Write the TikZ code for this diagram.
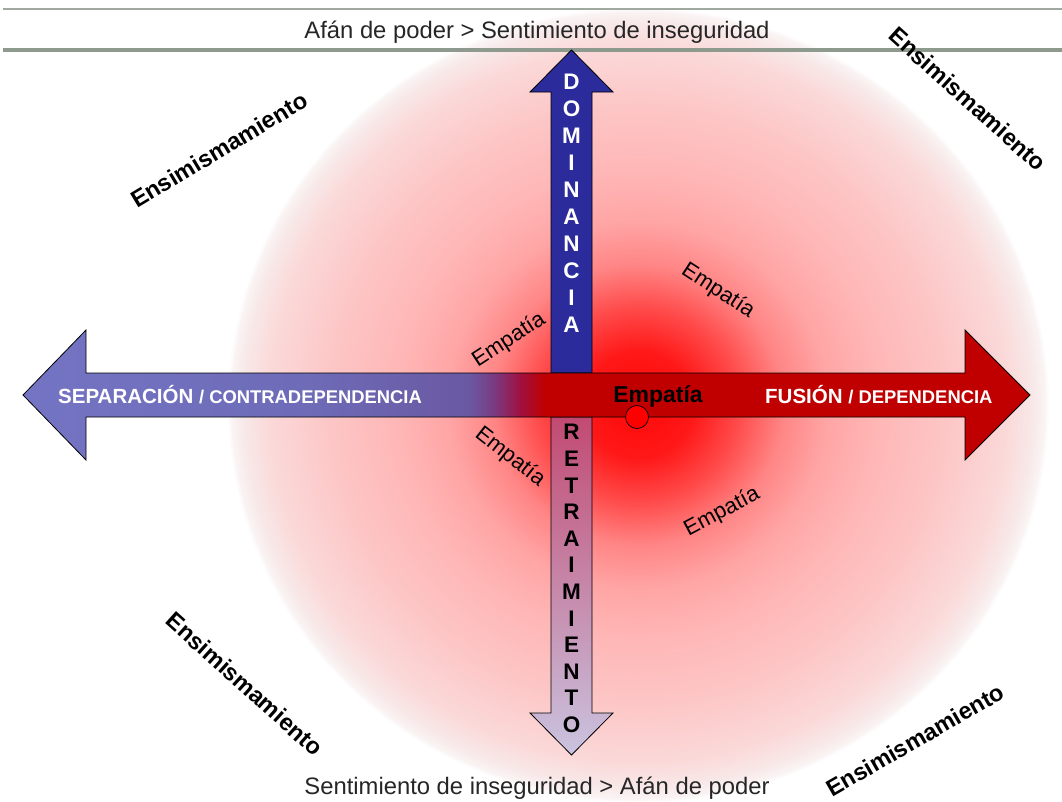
\documentclass[tikz,border=0pt]{standalone}
\usepackage{fontspec}
\setmainfont{Liberation Sans}

% palette
\definecolor{rulegray}{HTML}{8F9A8F}
\definecolor{domblue}{HTML}{2B2B9B}
\definecolor{sepA}{HTML}{7474C4}
\definecolor{sepB}{HTML}{6E6CB8}
\definecolor{sepC}{HTML}{6A58A2}
\definecolor{sepD}{HTML}{7A3A80}
\definecolor{sepE}{HTML}{A01040}
\definecolor{fusred}{HTML}{C00000}
\definecolor{retTop}{HTML}{C24A72}
\definecolor{retMid}{HTML}{CC95B2}
\definecolor{retBot}{HTML}{CAC4E0}
\definecolor{h0}{HTML}{FF0808}
\definecolor{h1}{HTML}{FF1818}
\definecolor{h2}{HTML}{FF4A4A}
\definecolor{h3}{HTML}{FF8585}
\definecolor{h4}{HTML}{FFA5A5}
\definecolor{h5}{HTML}{FFB6B6}
\definecolor{h6}{HTML}{FDC6C6}
\definecolor{h7}{HTML}{FBD9D9}
\definecolor{h8}{HTML}{F8E8E8}
\definecolor{h9}{HTML}{FAF3F3}

% red halo behind the axes (25bp = rim of the disc)
\pgfdeclareradialshading{halo}{\pgfpoint{0bp}{0bp}}{%
  color(0bp)=(h0); color(3.35bp)=(h1); color(6.08bp)=(h2); color(8.8bp)=(h3);
  color(11.56bp)=(h4); color(14.6bp)=(h5); color(18.8bp)=(h6); color(22.5bp)=(h7);
  color(24bp)=(h8); color(24.7bp)=(h9); color(25bp)=(white); color(50bp)=(white)}

% horizontal axis: blue-violet on the left, red on the right
\pgfdeclarehorizontalshading{haxis}{100bp}{%
  color(0bp)=(sepA); color(25bp)=(sepA); color(38.75bp)=(sepB); color(47.2bp)=(sepC);
  color(48.4bp)=(sepD); color(49.7bp)=(sepE); color(50.9bp)=(fusred); color(100bp)=(fusred)}

\begin{document}
\begin{tikzpicture}[x=1pt,y=-1pt,
  rulethin/.style={draw=rulegray!85, line width=1.4pt},
  rulethick/.style={draw=rulegray, line width=3.2pt},
  arrowline/.style={draw=black, line width=0.8pt, line join=miter},
  stack/.style={align=center, inner sep=0pt},
  axislabel/.style={text=white, inner sep=0pt, anchor=base west},
  empathy/.style={font=\fontsize{22}{26}\selectfont, inner sep=0pt},
  selfabs/.style={font=\bfseries\fontsize{23.5}{27}\selectfont, inner sep=0pt},
  caption/.style={font=\fontsize{23.8}{28}\selectfont, inner sep=0pt, anchor=base, text=black!85}]

\useasboundingbox (0,0) rectangle (1062,801);
\fill[white] (0,0) rectangle (1062,801);

% background disc
\shade[shading=halo] (638,405) ellipse [x radius=411, y radius=398];

% header rules
\coordinate (r1a) at (3,9);   \coordinate (r1b) at (1062,9);
\coordinate (r2a) at (3,50);  \coordinate (r2b) at (1062,50);
\draw[rulethin] (r1a) -- (r1b);
\draw[rulethick] (r2a) -- (r2b);

% vertical axis, upper half
\filldraw[arrowline, fill=domblue]
  (571.5,50) -- (613,92) -- (592,92) -- (592,373) -- (551,373) -- (551,92) -- (530,92) -- cycle;
% vertical axis, lower half
\shadedraw[arrowline, top color=retTop, middle color=retMid, bottom color=retBot]
  (551,417) -- (592,417) -- (592,713) -- (613,713) -- (571.5,755) -- (530,713) -- (551,713) -- cycle;
% horizontal axis (double arrow)
\shadedraw[arrowline, shading=haxis]
  (23,395) -- (86,330) -- (86,373) -- (965,373) -- (965,330) -- (1030,395)
  -- (965,460) -- (965,417) -- (86,417) -- (86,460) -- cycle;

% axis labels
\node[stack, text=white, font=\bfseries\fontsize{22.5}{27}\selectfont] (dom) at (571.5,203.5)
  {D\\O\\M\\I\\N\\A\\N\\C\\I\\A};
\node[stack, text=black, font=\bfseries\fontsize{22.5}{26.6}\selectfont] (ret) at (571.5,578.5)
  {R\\E\\T\\R\\A\\I\\M\\I\\E\\N\\T\\O};
\node[axislabel] (sep) at (58,403)
  {\bfseries\fontsize{20.5}{24}\selectfont SEPARACIÓN \fontsize{18.4}{22}\selectfont/ CONTRADEPENDENCIA};
\node[axislabel] (fus) at (765,403)
  {\bfseries\fontsize{20.5}{24}\selectfont FUSIÓN \fontsize{18.4}{22}\selectfont/ DEPENDENCIA};

% centre point
\node[anchor=base, inner sep=0pt, font=\bfseries\fontsize{23}{27}\selectfont] (emp) at (658,402) {Empatía};
\node[circle, draw=black, line width=0.7pt, fill=red, minimum size=23pt, inner sep=0pt] (dot) at (637,417) {};

% empathy around the centre
\node[empathy, rotate=33]  (e1) at (509,340) {Empatía};
\node[empathy, rotate=-33] (e2) at (718,291) {Empatía};
\node[empathy, rotate=-38] (e3) at (510,457) {Empatía};
\node[empathy, rotate=28]  (e4) at (722,512) {Empatía};

% self-absorption in the corners
\node[selfabs, rotate=31]  (s1) at (219,150) {Ensimismamiento};
\node[selfabs, rotate=-42] (s2) at (968,99)  {Ensimismamiento};
\node[selfabs, rotate=-42] (s3) at (245,684) {Ensimismamiento};
\node[selfabs, rotate=30]  (s4) at (915,740) {Ensimismamiento};

% captions
\node[caption] (top) at (537,38)  {Afán de poder > Sentimiento de inseguridad};
\node[caption] (bot) at (537,794) {Sentimiento de inseguridad > Afán de poder};
\end{tikzpicture}
\end{document}
